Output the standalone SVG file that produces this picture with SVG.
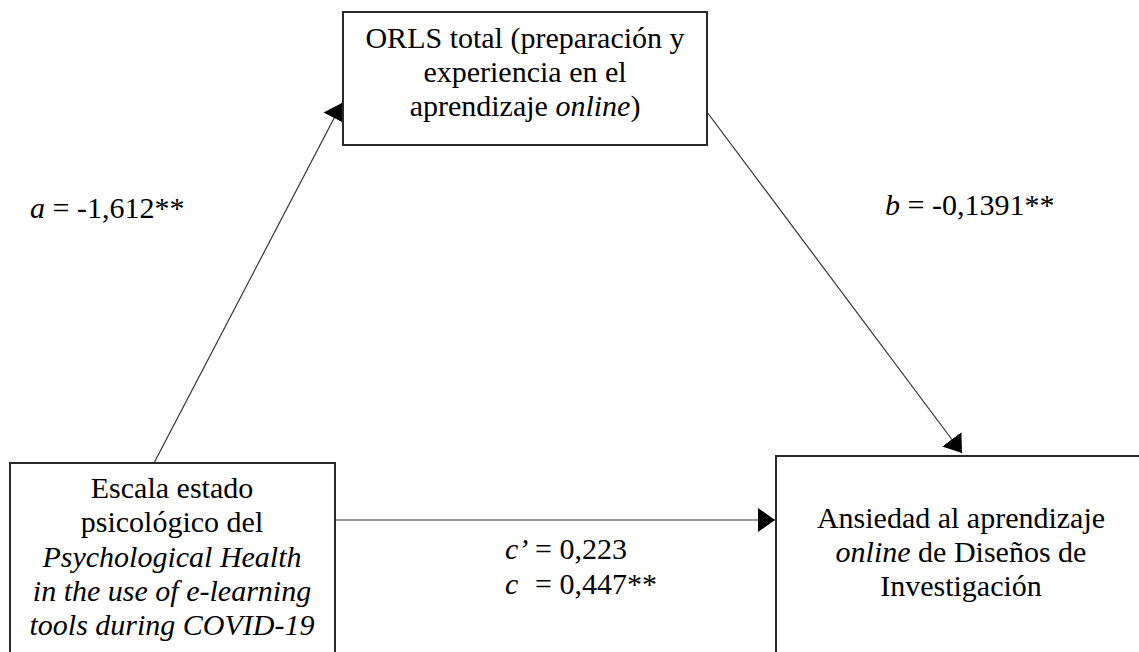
<svg xmlns="http://www.w3.org/2000/svg" width="1139" height="652" viewBox="0 0 1139 652">
<style>
.box{fill:#fff;stroke:#2a2a2a;stroke-width:2}
.t{font-family:"Liberation Serif","Times New Roman",serif;font-size:30px;fill:#000}
.c{text-anchor:middle}
.i{font-style:italic}
.ln{stroke:#333;stroke-width:1.2;fill:none;marker-end:url(#ah)}
</style>
<defs>
<marker id="ah" markerUnits="userSpaceOnUse" markerWidth="18" markerHeight="26" viewBox="0 -13 18 26" refX="17" refY="0" orient="auto">
<path d="M0,-12 L17,0 L0,12 Z" fill="#000"/>
</marker>
</defs>
<rect width="1139" height="652" fill="#fff"/>
<g id="connectors">
<line class="ln" x1="154" y1="463" x2="342" y2="103"/>
<line class="ln" x1="692" y1="92" x2="962" y2="453"/>
<line class="ln" x1="335" y1="520" x2="775" y2="520"/>
</g>
<g id="node-orls">
<rect class="box" x="343" y="12" width="364" height="133"/>
<text class="t c" x="525" y="48">ORLS total (preparación y</text>
<text class="t c" x="525" y="82">experiencia en el</text>
<text class="t c" x="525" y="116">aprendizaje <tspan class="i">online</tspan>)</text>
</g>
<g id="node-escala">
<rect class="box" x="10" y="463" width="325" height="200"/>
<text class="t c" x="172" y="498">Escala estado</text>
<text class="t c" x="172" y="532">psicológico del</text>
<text class="t c i" x="172" y="567">Psychological Health</text>
<text class="t c i" x="172" y="601">in the use of e-learning</text>
<text class="t c i" x="172" y="635">tools during COVID-19</text>
</g>
<g id="node-ansiedad">
<rect class="box" x="776" y="456" width="370" height="210"/>
<text class="t c" x="961" y="528">Ansiedad al aprendizaje</text>
<text class="t c" x="961" y="562"><tspan class="i">online</tspan> de Diseños de</text>
<text class="t c" x="961" y="596">Investigación</text>
</g>
<g id="labels">
<text class="t" x="30" y="218"><tspan class="i">a</tspan> = -1,612**</text>
<text class="t" x="885" y="215"><tspan class="i">b</tspan> = -0,1391**</text>
<text class="t" x="505" y="559"><tspan class="i">c’</tspan><tspan x="535">= 0,223</tspan></text>
<text class="t" x="505" y="594"><tspan class="i">c</tspan><tspan x="535">= 0,447**</tspan></text>
</g>
</svg>
